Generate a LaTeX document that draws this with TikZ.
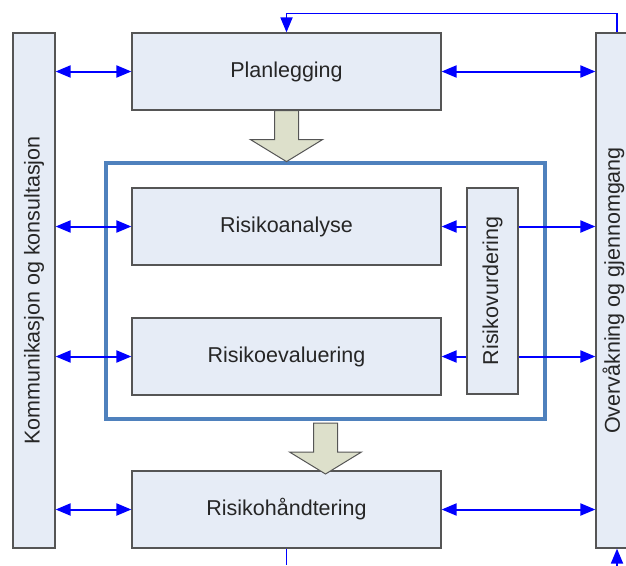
\documentclass[tikz,border=0pt]{standalone}
\usepackage{fontspec}
\setmainfont{Liberation Sans}
\usetikzlibrary{arrows.meta}
\definecolor{boxfill}{RGB}{230,236,246}
\definecolor{boxline}{RGB}{85,85,85}
\definecolor{rammeblue}{RGB}{79,129,189}
\definecolor{pilfill}{RGB}{221,224,203}
\begin{document}
\begin{tikzpicture}[x=1pt, y=-1pt,
	every node/.style={font=\fontsize{21.5}{25}\selectfont, text=black!85},
	boks/.style={draw=boxline, fill=boxfill, line width=1.2pt, minimum width=309, minimum height=77, inner sep=0},
	stolpe/.style={draw=boxline, fill=boxfill, line width=1.2pt, minimum width=42, minimum height=515, inner sep=0},
	arr/.style={draw=blue, line width=2pt, -{Triangle[length=15pt, width=12pt]}},
	dbl/.style={arr, {Triangle[length=15pt, width=12pt]}-{Triangle[length=15pt, width=12pt]}},
	bigarr/.style={draw=boxline, fill=pilfill, line width=1pt, line join=miter}]
	\useasboundingbox (0,0) rectangle (626,565);
	\clip (0,0) rectangle (626,565);
	\def\bigarrow{
		++(-12,0) -- ++(0,29) -- ++(-24,0) -- ++(36,22) -- ++(36,-22) -- ++(-24,0) -- ++(0,-29) -- cycle
	}
	% side bars
	\node[stolpe] (komm) at (34,290.5) {\rotatebox{90}{Kommunikasjon og konsultasjon}};
	\node[stolpe] (overv) at (617,290.5) {};
	\node (overvtxt) at (613.5,290.5) {\rotatebox{90}{Overvåkning og gjennomgang}};
	% main boxes
	\node[boks] (plan) at (286.5,71.5) {Planlegging};
	\node[draw=rammeblue, line width=4pt, minimum width=439, minimum height=256] (ramme) at (325.5,291) {};
	\node[boks] (analyse) at (286.5,226.5) {Risikoanalyse};
	\node[boks] (eval) at (286.5,356.5) {Risikoevaluering};
	\node[boks, minimum width=51, minimum height=206] (vurd) at (492.5,291) {\rotatebox{90}{Risikovurdering}};
	\node[boks] (haand) at (286.5,509.5) {Risikohåndtering};
	\draw[bigarr] (plan.south) \bigarrow;
	\draw[bigarr] (ramme.south) ++(0,2) \bigarrow;
	
	\foreach \n in {plan, analyse, eval, haand}
	{
		\draw[dbl] (komm.east |- \n) -- (\n);
	}
	\foreach \n in {plan, haand}
		\draw[dbl] (\n) -- (overv.west |- \n);
	\foreach \n in {analyse, eval}
	{
		\draw[arr] (vurd.west |- \n) -- (\n);
		\draw[arr] (vurd.east |- \n) -- (overv.west |- \n);
	}
	% feedback loop
	\coordinate (ned) at (0,565);
	\draw[arr, line width=1.8pt] (overv.north) -- ++(0,-19) -| (plan.north);
	\draw[blue, line width=1.8pt] (haand.south) -- (haand.south |- ned);
	\draw[arr, line width=1.8pt] (overv.south |- ned) ++(0,8) -- (overv.south);
\end{tikzpicture}
\end{document}
